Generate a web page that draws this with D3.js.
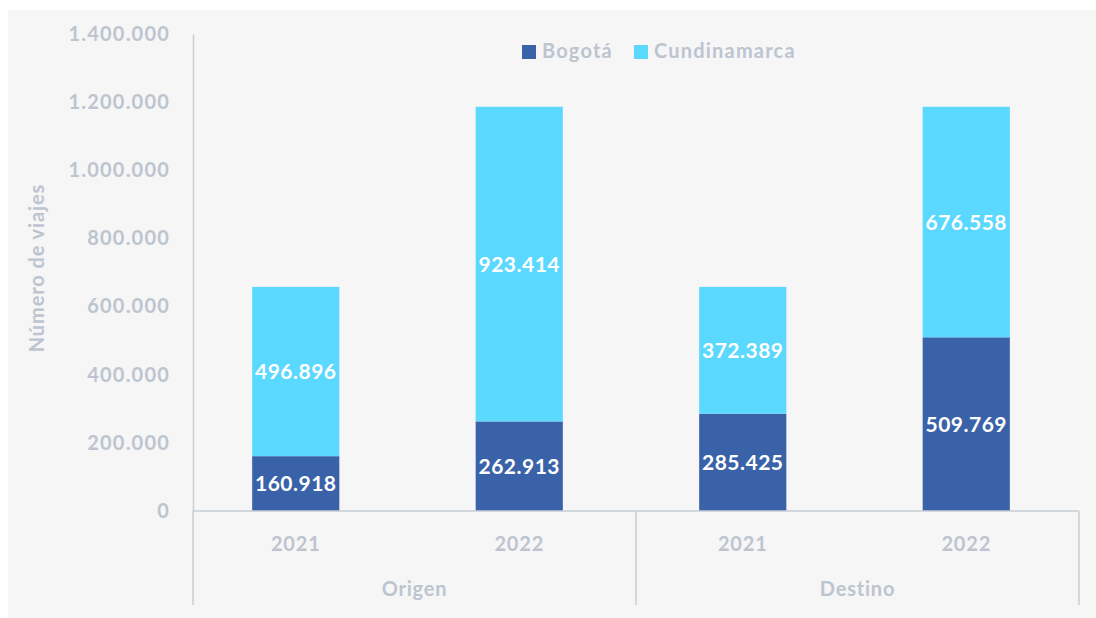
<!DOCTYPE html>
<style>
    body { margin: 0; background: #fff; font-family: 'Lato', sans-serif; }
    text { font-family: 'Lato', sans-serif; font-weight: bold; }
</style>
<svg width="1096" height="618"></svg>
<script src="https://d3js.org/d3.v7.min.js"></script>
<script>
    // data
    var groups = ["Origen", "Destino"];
    var years = ["2021", "2022"];
    var bogota = [160918, 262913, 285425, 509769];
    var cundinamarca = [496896, 923414, 372389, 676558];
    var yTicks = [0, 200000, 400000, 600000, 800000, 1000000, 1200000, 1400000];
    var seriesNames = ["Bogotá", "Cundinamarca"];
    var colors = ["#3a62a8", "#5bd8fe"];

    var svg = d3.select("svg");
    var grey = "#bcc5cf";
    var lineGrey = "#c7ced6";

    // background panel
    svg.append("rect").attr("x", 8).attr("y", 10).attr("width", 1088).attr("height", 608).attr("fill", "#f6f6f6");

    var plotLeft = 193, plotRight = 1079, plotTop = 34, base = 511;

    var keys = [];
    groups.forEach(function(g) { years.forEach(function(y) { keys.push(g + "|" + y); }); });
    var rows = keys.map(function(k, i) { return {key: k, "Bogotá": bogota[i], "Cundinamarca": cundinamarca[i]}; });

    var x = d3.scaleBand().domain(keys).range([184, 1078]).paddingInner(0.61).paddingOuter(0.305);
    var xg = d3.scaleBand().domain(groups).range([plotLeft, plotRight]);
    var y = d3.scaleLinear().domain([0, 1400000]).range([base, plotTop]);
    var fmt = function(v) { return d3.format(",")(v).replace(/,/g, "."); };

    // y axis
    var yAxis = svg.append("g")
        .attr("transform", "translate(" + plotLeft + ",0)")
        .call(d3.axisLeft(y).tickValues(yTicks).tickSize(0).tickPadding(23).tickFormat(fmt));
    yAxis.select(".domain").attr("stroke", lineGrey).attr("stroke-width", 1.5);
    yAxis.selectAll("text").attr("fill", grey).style("font-size", "20px").style("letter-spacing", "1.2px")
        .style("font-family", "Lato, sans-serif").style("font-weight", "bold");

    svg.append("text")
        .attr("transform", "translate(44,268) rotate(-90)")
        .attr("text-anchor", "middle")
        .attr("fill", grey).style("font-size", "20px").style("letter-spacing", "0.9px")
        .text("Número de viajes");

    // stacked bars
    var stack = d3.stack().keys(seriesNames)(rows);
    var layer = svg.selectAll("g.layer").data(stack).enter().append("g")
        .attr("class", "layer")
        .attr("fill", function(d, i) { return colors[i]; });
    layer.selectAll("rect").data(function(d) { return d; }).enter().append("rect")
        .attr("x", function(d) { return x(d.data.key); })
        .attr("width", x.bandwidth())
        .attr("y", function(d) { return y(d[1]); })
        .attr("height", function(d) { return y(d[0]) - y(d[1]); });
    layer.selectAll("text").data(function(d) { return d; }).enter().append("text")
        .attr("x", function(d) { return x(d.data.key) + x.bandwidth() / 2; })
        .attr("y", function(d) { return (y(d[0]) + y(d[1])) / 2; })
        .attr("dy", "0.36em")
        .attr("text-anchor", "middle")
        .attr("fill", "#fff").style("font-size", "21px").style("letter-spacing", "0.5px")
        .text(function(d) { return fmt(d[1] - d[0]); });

    // x axis baseline and group separators
    svg.append("line").attr("x1", plotLeft).attr("x2", plotRight).attr("y1", base).attr("y2", base)
        .attr("stroke", lineGrey).attr("stroke-width", 1.5);
    var seps = [xg.range()[0]].concat(groups.map(function(g) { return xg(g) + xg.bandwidth(); }));
    svg.selectAll("line.sep").data(seps).enter().append("line")
        .attr("class", "sep")
        .attr("x1", function(d) { return d; }).attr("x2", function(d) { return d; })
        .attr("y1", base).attr("y2", 605)
        .attr("stroke", lineGrey).attr("stroke-width", 1.5);

    svg.selectAll("text.year").data(keys).enter().append("text")
        .attr("x", function(d) { return x(d) + x.bandwidth() / 2; })
        .attr("y", 551)
        .attr("text-anchor", "middle")
        .attr("fill", grey).style("font-size", "20px").style("letter-spacing", "0.8px")
        .text(function(d) { return d.split("|")[1]; });

    svg.selectAll("text.group").data(groups).enter().append("text")
        .attr("x", function(d) { return xg(d) + xg.bandwidth() / 2; })
        .attr("y", 596)
        .attr("text-anchor", "middle")
        .attr("fill", grey).style("font-size", "20px").style("letter-spacing", "0.8px")
        .text(function(d) { return d; });

    // legend
    var legX = [522, 634];
    var leg = svg.selectAll("g.leg").data(seriesNames).enter().append("g")
        .attr("transform", function(d, i) { return "translate(" + legX[i] + ",45)"; });
    leg.append("rect").attr("width", 14).attr("height", 14).attr("fill", function(d, i) { return colors[i]; });
    leg.append("text").attr("x", 20).attr("y", 13)
        .attr("fill", grey).style("font-size", "20px").style("letter-spacing", "1.2px")
        .text(function(d) { return d; });
</script>
